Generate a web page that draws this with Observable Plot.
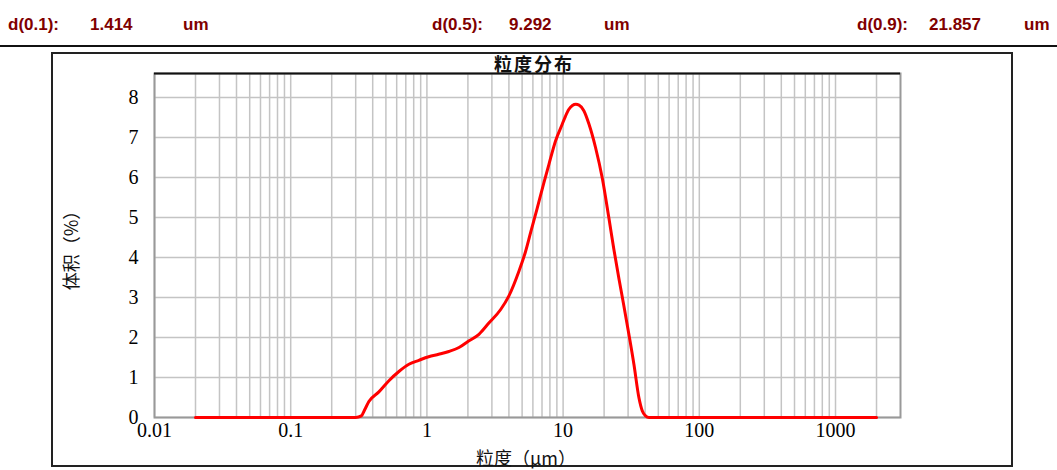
<!DOCTYPE html>
<html><head><meta charset="utf-8">
<script src="https://cdn.jsdelivr.net/npm/d3@7"></script>
<script src="https://cdn.jsdelivr.net/npm/@observablehq/plot@0.6"></script>
<style>
body{margin:0;background:#fff;}
#wrap{position:relative;width:1057px;height:470px;overflow:hidden;background:#fff;}
.hd{position:absolute;top:15px;line-height:17px;font:bold 17px "Liberation Sans",Arial,sans-serif;color:#800000;white-space:nowrap;}
#hline{position:absolute;left:0;top:45px;width:1057px;height:2px;background:#111;}
#box{position:absolute;left:51px;top:52px;width:958px;height:411px;border:2px solid #222;}
.lbl{position:absolute;white-space:nowrap;font-family:"Noto Sans CJK SC",sans-serif;color:#111;transform:translate(-50%,-50%);}
#chart{position:absolute;left:0;top:0;}
</style></head>
<body><div id="wrap">
<div id="hline"></div>
<div id="box"></div>
<div id="chart"></div>
</div>
<script>
// header statistics
const statNames = ["d(0.1):", "d(0.5):", "d(0.9):"];
const statValues = ["1.414", "9.292", "21.857"];
const statUnit = "um";

// chart texts
const chartTitle = "粒度分布";
const xLabel = "粒度（μm）";
const yLabel = "体积（%）";

// axes
const xTicks = [0.01, 0.1, 1, 10, 100, 1000];
const xTickLabels = ["0.01", "0.1", "1", "10", "100", "1000"];
const yTicks = [0, 1, 2, 3, 4, 5, 6, 7, 8];
const xDomain = [0.01, 3000];
const yDomain = [0, 8.6];
const gridMantissas = [1, 2, 3, 4, 5, 6, 7, 8, 9];
const gridDecades = [0.01, 0.1, 1, 10, 100, 1000];

// particle size distribution (size in μm, volume %)
const sizes = [0.02, 0.3, 0.33, 0.35, 0.375, 0.444, 0.526, 0.623, 0.738, 0.873, 1.03, 1.22, 1.45, 1.72, 2.0, 2.41, 2.85, 3.48, 4.0, 4.73, 5.3, 5.77, 6.45, 7.23, 7.87, 8.81, 9.85, 10.4, 11.0, 11.7, 12.4, 13.1, 14.2, 15.5, 17.3, 19.4, 21.7, 23.6, 25.7, 27.9, 30.4, 33.1, 36.0, 38.1, 40.3, 42.7, 2000];
const volumes = [0, 0, 0.04, 0.2, 0.4, 0.64, 0.92, 1.15, 1.33, 1.43, 1.52, 1.58, 1.65, 1.75, 1.9, 2.08, 2.36, 2.7, 3.04, 3.65, 4.15, 4.62, 5.23, 5.87, 6.33, 6.92, 7.33, 7.53, 7.7, 7.8, 7.83, 7.81, 7.67, 7.33, 6.75, 5.98, 4.98, 4.2, 3.47, 2.8, 2.08, 1.33, 0.5, 0.17, 0.04, 0, 0];

const data = sizes.map((s, i) => ({size: s, vol: volumes[i]}));
const xGrid = gridDecades.flatMap(d => gridMantissas.map(m => +(m * d).toPrecision(3))).filter(v => v < xDomain[1]);
const xLabelMap = new Map(xTicks.map((t, i) => [t, xTickLabels[i]]));

// header
const wrap = document.getElementById("wrap");
const hdPos = [[8, 90, 183], [432, 509, 604], [857, 929, 1024]];
statNames.forEach((n, i) => {
  [n, statValues[i], statUnit].forEach((t, j) => {
    const s = document.createElement("div");
    s.className = "hd";
    s.style.left = hdPos[i][j] + "px";
    s.textContent = t;
    wrap.appendChild(s);
  });
});
function addLabel(text, x, y, size, weight, rotate, spacing) {
  const d = document.createElement("div");
  d.className = "lbl";
  d.textContent = text;
  d.style.left = x + "px";
  d.style.top = y + "px";
  d.style.fontSize = size + "px";
  d.style.fontWeight = weight;
  if (spacing) d.style.letterSpacing = spacing + "px";
  if (rotate) d.style.transform = "translate(-50%,-50%) rotate(-90deg)";
  wrap.appendChild(d);
}
addLabel(chartTitle, 534, 63, 18, 700, false, 2);
addLabel(xLabel, 526, 457, 18, 400, false, 0);
addLabel(yLabel, 70, 246, 18, 400, true, 0);

const serif = "'Liberation Serif','Times New Roman',serif";
const chart = Plot.plot({
  width: 1057,
  height: 470,
  marginLeft: 154,
  marginRight: 157,
  marginTop: 73,
  marginBottom: 53,
  style: {background: "transparent", overflow: "visible"},
  x: {type: "log", domain: xDomain},
  y: {domain: yDomain},
  marks: [
    Plot.ruleX(xGrid, {stroke: "#c4c4c4", strokeWidth: 1.5}),
    Plot.ruleY(yTicks, {stroke: "#c4c4c4", strokeWidth: 1.5}),
    Plot.frame({stroke: "#999", strokeWidth: 2}),
    Plot.ruleY([yDomain[1]], {stroke: "#111", strokeWidth: 2}),
    Plot.axisX({ticks: xTicks, tickSize: 0, tickPadding: 5, tickFormat: d => xLabelMap.get(d), fontSize: 20, fontFamily: serif, label: null}),
    Plot.axisY({ticks: yTicks, tickSize: 0, tickPadding: 16, tickFormat: d => String(d), fontSize: 20, fontFamily: serif, label: null}),
    Plot.line(data, {x: "size", y: "vol", stroke: "#ff0000", strokeWidth: 3, curve: "monotone-x"})
  ]
});
document.getElementById("chart").appendChild(chart);
</script>
</body></html>
